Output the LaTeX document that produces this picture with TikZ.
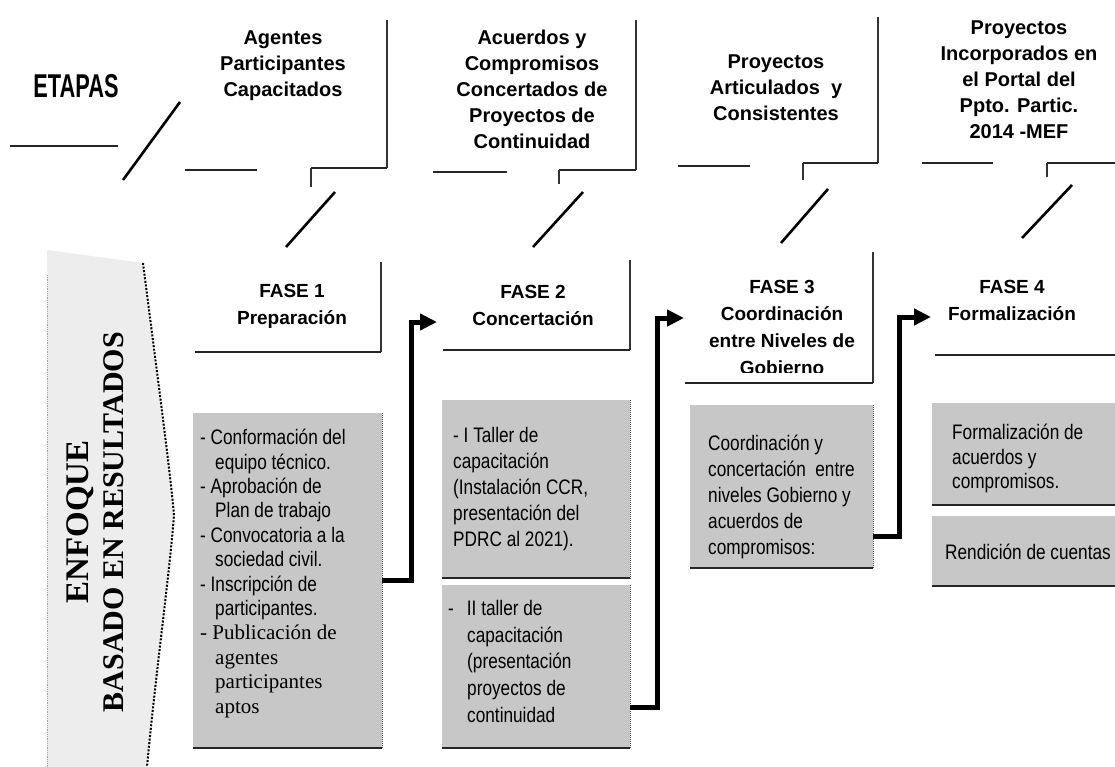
\documentclass[tikz,border=0pt]{standalone}
\usepackage{fontspec}
\setmainfont{Liberation Sans}
\newfontfamily\narrowfont[FakeStretch=0.82]{Liberation Sans}
\newfontfamily\condfont[FakeStretch=0.66]{Liberation Sans}
\newfontfamily\serfont{Liberation Serif}
\usetikzlibrary{arrows.meta}
\tikzset{
  hdr/.style={font=\fontsize{20}{26}\selectfont\bfseries, align=center, inner sep=0pt},
  fase/.style={font=\fontsize{19}{27}\selectfont\bfseries, align=center, inner sep=0pt},
  body/.style={font=\narrowfont\fontsize{21}{25}\selectfont, align=left, anchor=north west, inner sep=0pt},
  rule/.style={line width=2pt, black!85},
  thinrule/.style={line width=1.2pt, black!80},
  slash/.style={line width=2.6pt, black},
  cbox/.style={fill=black!22, draw=none, anchor=north west, inner sep=0pt},
  flow/.style={line width=5pt, black, line join=miter, -{Triangle[length=17pt,width=16pt]}},
}
\begin{document}
\begin{tikzpicture}[x=1pt,y=-1pt]
\fill[white] (0,0) rectangle (1115,767);
\useasboundingbox (0,0) rectangle (1115,767);

% left background region
\fill[black!7] (47,250) -- (143,263) .. controls (158,380) and (170,470) .. (174,515)
  .. controls (170,570) and (155,680) .. (147,767) -- (47,767) -- cycle;
\draw[black!35, densely dotted, line width=0.8pt] (47,275) -- (47,767);
\draw[black, line width=2pt, dash pattern=on 2pt off 1.6pt] (143,263) .. controls (158,380) and (170,470) .. (174,515)
  .. controls (170,570) and (155,680) .. (147,767);
\node[rotate=90, font=\serfont\bfseries\fontsize{30}{35}\selectfont, align=center, inner sep=0pt] (enfoque) at (95,522) {{\fontsize{33}{35}\selectfont ENFOQUE}\\BASADO EN RESULTADOS};

% ETAPAS
\node[font=\condfont\bfseries\fontsize{33}{33}\selectfont, inner sep=0pt] (etapas) at (76,86) {ETAPAS};
\draw[rule] (10,146) -- (118,146);
\draw[slash] (123,180) -- (180,102);

% header boxes
\draw[thinrule] (387,20) -- (387,168);
\draw[rule] (185,170) -- (257,170);
\draw[rule] (311,168) -- (387,168);
\draw[thinrule] (311,168) -- (311,187);
\draw[slash] (286,247) -- (335,192);
\node[hdr] (h1) at (283,66) {Agentes\\Participantes\\Capacitados};

\draw[thinrule] (636,20) -- (636,170);
\draw[rule] (433,172) -- (507,172);
\draw[rule] (559,170) -- (636,170);
\draw[thinrule] (559,170) -- (559,184);
\draw[slash] (533,247) -- (583,192);
\node[hdr] (h2) at (532,89) {Acuerdos y\\Compromisos\\Concertados de\\Proyectos de\\Continuidad};

\draw[thinrule] (878,17) -- (878,163);
\draw[rule] (678,166) -- (750,166);
\draw[rule] (803,163) -- (878,163);
\draw[thinrule] (803,163) -- (803,180);
\draw[slash] (781,243) -- (828,189);
\node[hdr] (h3) at (776,88) {Proyectos\\Articulados~ y\\Consistentes};

\draw[rule] (922,163) -- (993,163);
\draw[rule] (1047,163) -- (1115,163);
\draw[thinrule] (1047,163) -- (1047,177);
\draw[slash] (1022,238) -- (1072,185);
\node[hdr] (h4) at (1019,80) {Proyectos\\Incorporados en\\el Portal del\\Ppto. Partic.\\2014 -MEF};

% phase boxes
\draw[thinrule] (381,262) -- (381,352);
\draw[rule] (195,352) -- (381,352);
\node[fase] (f1) at (292,306) {FASE 1\\Preparación};

\draw[thinrule] (630,260) -- (630,350);
\draw[rule] (443,350) -- (630,350);
\node[fase] (f2) at (533,305) {FASE 2\\Concertación};

\draw[thinrule] (873,252) -- (873,383);
\draw[rule] (685,383) -- (873,383);
\begin{scope}
\clip (680,250) rectangle (872,372);
\node[fase] (f3) at (782,327) {FASE 3\\Coordinación\\entre Niveles de\\Gobierno};
\end{scope}

\draw[rule] (935,355) -- (1115,355);
\node[fase] (f4) at (1012,300) {FASE 4\\Formalización};

% content boxes
\node[cbox, minimum width=189pt, minimum height=335pt] (c1) at (193,413) {};
\node[cbox, minimum width=188pt, minimum height=178pt] (c2a) at (442,400) {};
\node[cbox, minimum width=188pt, minimum height=163pt] (c2b) at (442,585) {};
\node[cbox, minimum width=183pt, minimum height=163pt] (c3) at (690,405) {};
\node[cbox, minimum width=183pt, minimum height=102pt] (c4a) at (932,403) {};
\node[cbox, minimum width=183pt, minimum height=70pt] (c4b) at (932,516) {};
\foreach \b in {c1,c2a,c2b,c3,c4a,c4b}{
  \draw[rule] (\b.south west) -- (\b.south east);
  \draw[black!70, densely dotted, line width=1pt] (\b.north east) -- (\b.south east);
}

\node[body, font=\narrowfont\fontsize{21}{24.4}\selectfont] (t1) at (200,429) {- Conformación del\\\hspace*{15pt}equipo técnico.\\- Aprobación de\\\hspace*{15pt}Plan de trabajo\\- Convocatoria a la\\\hspace*{15pt}sociedad civil.\\- Inscripción de\\\hspace*{15pt}participantes.\\{\serfont - Publicación de}\\\hspace*{15pt}{\serfont agentes}\\\hspace*{15pt}{\serfont participantes}\\\hspace*{15pt}{\serfont aptos}};
\node[body, font=\narrowfont\fontsize{21}{26}\selectfont] (t2a) at (453,427) {- I Taller de\\capacitación\\(Instalación CCR,\\presentación del\\PDRC al 2021).};
\node[body, font=\narrowfont\fontsize{21}{26.7}\selectfont] (t2b) at (448,600) {-\hspace{13pt}II taller de\\\hspace*{19pt}capacitación\\\hspace*{19pt}(presentación\\\hspace*{19pt}proyectos de\\\hspace*{19pt}continuidad};
\node[body, font=\narrowfont\fontsize{21}{26}\selectfont] (t3) at (708,435) {Coordinación y\\concertación~ entre\\niveles Gobierno y\\acuerdos de\\compromisos:};
\node[body, font=\narrowfont\fontsize{21}{24.5}\selectfont] (t4a) at (952,424) {Formalización de\\acuerdos y\\compromisos.};
\node[body, anchor=west] (t4b) at (945,552) {Rendición de cuentas};

% connectors
\coordinate (p2) at (437,322);
\coordinate (p3) at (684,318);
\coordinate (p4) at (931,317);
\draw[flow] (c1.east) -- ++(29,0) |- (p2);
\draw[flow] ([yshift=-41pt]c2b.east) -- ++(27,0) |- (p3);
\draw[flow] ([yshift=-50pt]c3.east) -- ++(26,0) |- (p4);
\end{tikzpicture}
\end{document}
